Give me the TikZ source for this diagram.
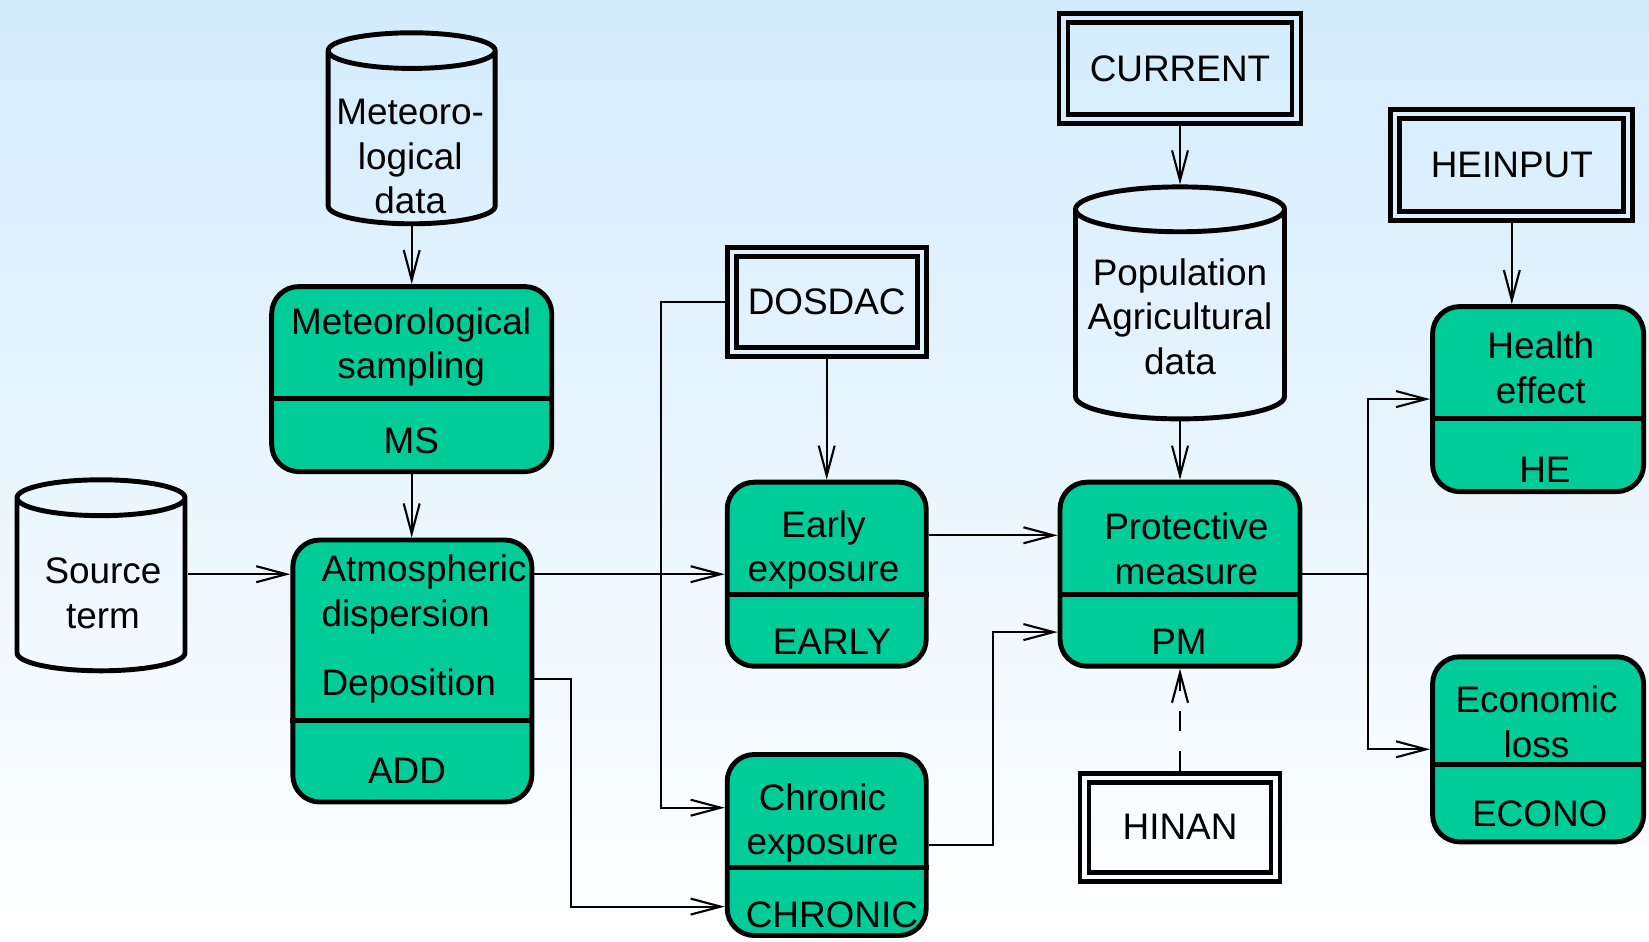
\documentclass[tikz,border=0pt]{standalone}
\usepackage{fontspec}
\setmainfont{Liberation Sans}
\usetikzlibrary{shapes.geometric, arrows.meta, positioning}
\definecolor{bgtop}{HTML}{D3ECFD}
\definecolor{procgreen}{HTML}{00CC99}
\newcommand{\diagfont}{\fontsize{10.5}{12.7}\selectfont}

\tikzset{
  proc/.style={draw, line width=1.4pt, fill=procgreen, rounded corners=0.27cm},
  divider/.style={line width=1.4pt},
  lbl/.style={align=center, inner sep=0pt},
  store/.style={cylinder, shape border rotate=90, aspect=0.22, draw, line width=1.4pt,
    inner sep=0pt, anchor=shape center},
  ext/.style={draw, line width=1.4pt, path picture={
    \draw[line width=1.4pt] ([shift={(0.09,-0.09)}]path picture bounding box.north west)
      rectangle ([shift={(-0.09,0.09)}]path picture bounding box.south east);}},
  flow/.style={-{Straight Barb[length=3mm,width=1.6mm]}, line width=0.6pt},
}

\begin{document}
\begin{tikzpicture}[font=\diagfont]
  \useasboundingbox (0,0) rectangle (16.49,9.41);
  \fill[top color=bgtop, bottom color=white] (0,0) rectangle (16.49,9.41);

  % data
  \node[store, text width=1.62cm, minimum width=1.67cm, minimum height=1.91cm] (met) at (4.117,8.127) {};
  \node[lbl] (met-t) at (4.102,7.843) {Meteoro-\\logical\\data};
  \node[store, text width=1.63cm, minimum width=1.68cm, minimum height=1.91cm] (src) at (1.01,3.657) {};
  \node[lbl] (src-t) at (1.03,3.478) {Source\\term};
  \node[store, text width=2.04cm, minimum width=2.09cm, minimum height=2.32cm] (pop) at (11.80,6.381) {};
  \node[lbl] (pop-t) at (11.80,6.244) {Population\\Agricultural\\data};

  % input files
  \node[ext, minimum width=1.99cm, minimum height=1.09cm] (dosdac) at (8.267,6.392) {DOSDAC};
  \node[ext, minimum width=2.42cm, minimum height=1.10cm] (current) at (11.80,8.721) {CURRENT};
  \node[ext, minimum width=2.42cm, minimum height=1.11cm] (heinput) at (15.118,7.759) {HEINPUT};
  \node[ext, minimum width=2.00cm, minimum height=1.08cm] (hinan) at (11.80,1.138) {HINAN};

  % modules
  \node[proc, minimum width=2.80cm, minimum height=1.85cm] (ms) at (4.117,5.619) {};
  \draw[divider] (ms.west |- 0,5.424) -- (ms.east |- 0,5.424);
  \node[lbl] (ms-a) at (4.112,5.939) {Meteorological\\sampling};
  \node[lbl] (ms-b) at (4.112,5.003) {MS};

  \node[proc, minimum width=2.39cm, minimum height=2.62cm] (add) at (4.123,2.700) {};
  \draw[divider] (add.west |- 0,2.206) -- (add.east |- 0,2.206);
  \node[lbl, align=left, anchor=west] (add-a) at (3.208,3.468) {Atmospheric\\dispersion};
  \node[lbl, anchor=west] (add-c) at (3.208,2.553) {Deposition};
  \node[lbl] (add-b) at (4.070,1.701) {ADD};

  \node[proc, minimum width=1.99cm, minimum height=1.84cm] (early) at (8.267,3.668) {};
  \draw[divider] (early.west |- 0,3.468) -- (early.east |- 0,3.468);
  \node[lbl] (early-a) at (8.235,3.910) {Early\\exposure};
  \node[lbl] (early-b) at (8.319,2.995) {EARLY};

  \node[proc, minimum width=1.99cm, minimum height=1.81cm] (chronic) at (8.267,0.960) {};
  \draw[divider] (chronic.west |- 0,0.733) -- (chronic.east |- 0,0.733);
  \node[lbl] (chronic-a) at (8.224,1.180) {Chronic\\exposure};
  \node[lbl] (chronic-b) at (8.319,0.260) {CHRONIC};

  \node[proc, minimum width=2.40cm, minimum height=1.84cm] (pm) at (11.80,3.668) {};
  \draw[divider] (pm.west |- 0,3.468) -- (pm.east |- 0,3.468);
  \node[lbl] (pm-a) at (11.863,3.925) {Protective\\measure};
  \node[lbl] (pm-b) at (11.790,2.995) {PM};

  \node[proc, minimum width=2.11cm, minimum height=1.85cm] (he) at (15.381,5.419) {};
  \draw[divider] (he.west |- 0,5.224) -- (he.east |- 0,5.224);
  \node[lbl] (he-a) at (15.407,5.734) {Health\\effect};
  \node[lbl] (he-b) at (15.449,4.709) {HE};

  \node[proc, minimum width=2.11cm, minimum height=1.85cm] (econo) at (15.381,1.917) {};
  \draw[divider] (econo.west |- 0,1.764) -- (econo.east |- 0,1.764);
  \node[lbl] (econo-a) at (15.365,2.190) {Economic\\loss};
  \node[lbl] (econo-b) at (15.397,1.270) {ECONO};

  % flows
  \draw[flow] (met.bottom) -- (ms.north);
  \draw[flow] (ms.south) -- (ms.south |- add.north);
  \draw[flow] (src.east |- early.west) -- (add.west |- early.west);
  \draw[flow] (early.west -| add.east) -- (early.west);
  \draw[flow] (dosdac.south) -- (early.north);
  \draw[flow] (dosdac.west) -- ++(-0.64,0) |- ([yshift=0.373cm]chronic.west);
  \draw[flow] ([yshift=-0.084cm]add.east) -- ++(0.368,0) |- ([yshift=-0.616cm]chronic.west);
  \draw[flow] ([yshift=0.389cm]early.east) -- ([yshift=0.389cm]pm.west);
  \draw[flow] (chronic.east) -- ++(0.641,0) |- ([yshift=-0.579cm]pm.west);
  \draw[flow] (current.south) -- (pop.top);
  \draw[flow] (pop.bottom) -- (pm.north);
  \draw[flow, dash pattern=on 2mm off 2mm] (hinan) -- (pm);
  \draw[line width=0.6pt] (pm.east) -- ++(0.652,0) coordinate (fork);
  \draw[flow] (fork) |- (he.west);
  \draw[flow] (fork) |- (econo.west);
  \draw[flow] (heinput.south) -- (heinput.south |- he.north);
\end{tikzpicture}
\end{document}
